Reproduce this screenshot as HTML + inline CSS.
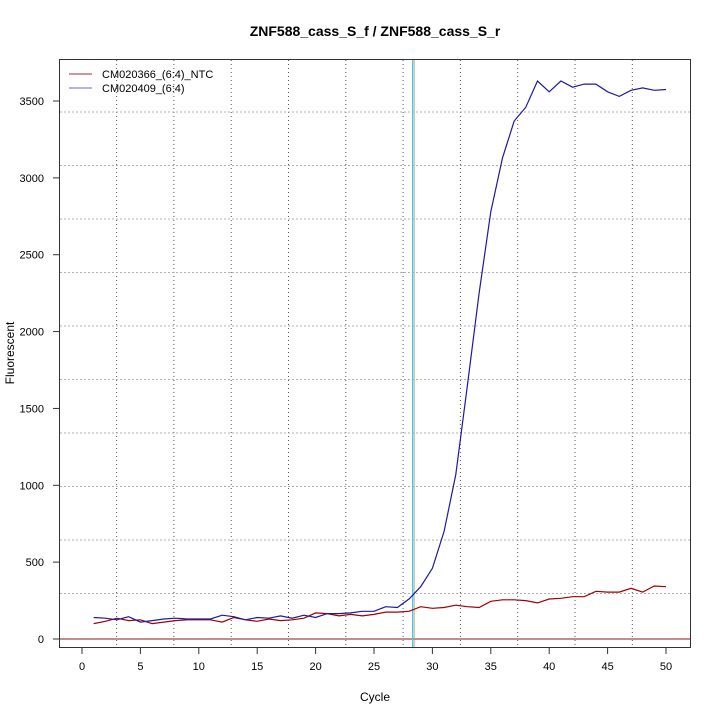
<!DOCTYPE html>
<html><head><meta charset="utf-8"><style>
body{margin:0;background:#fff}
svg{display:block;font-family:"Liberation Sans",sans-serif}
</style></head><body>
<svg id="chart" width="720" height="720" viewBox="0 0 720 720">
<rect width="720" height="720" fill="#fff"/>
<text x="375" y="36" text-anchor="middle" font-size="14" font-weight="bold">ZNF588_cass_S_f / ZNF588_cass_S_r</text>
<text x="375" y="701" text-anchor="middle" font-size="12">Cycle</text>
<text x="14" y="353" text-anchor="middle" font-size="12" transform="rotate(-90 14 353)">Fluorescent</text>
<g id="grid"></g>
<g id="axes"></g>
<g id="series"></g>
<rect x="59.5" y="59.5" width="631" height="588" fill="none" stroke="#333"/>
<g>
<line x1="69" y1="74" x2="92" y2="74" stroke="#a52a2a"/>
<text x="102" y="78" font-size="11">CM020366_(6:4)_NTC</text>
<line x1="69" y1="88" x2="92" y2="88" stroke="#6666dd"/>
<text x="102" y="92" font-size="11">CM020409_(6:4)</text>
</g>
</svg>
<script>
const cycles=[1,2,3,4,5,6,7,8,9,10,11,12,13,14,15,16,17,18,19,20,21,22,23,24,25,26,27,28,29,30,31,32,33,34,35,36,37,38,39,40,41,42,43,44,45,46,47,48,49,50];
const sampleValues=[140,135,125,145,110,120,130,135,130,130,130,155,145,125,140,135,150,135,155,140,165,165,170,180,180,210,205,260,340,460,700,1070,1650,2250,2780,3130,3370,3460,3630,3560,3630,3590,3610,3610,3560,3530,3570,3585,3570,3575];
const ntcValues=[100,115,135,120,125,100,110,120,125,125,125,110,140,125,115,130,120,125,135,170,165,150,160,150,160,175,175,180,210,200,205,220,210,205,245,255,255,250,235,260,265,275,275,310,305,305,330,305,345,340];
const xTicks=[0,5,10,15,20,25,30,35,40,45,50];
const yTicks=[0,500,1000,1500,2000,2500,3000,3500];
const threshold=28.3;
const NS='http://www.w3.org/2000/svg';
function X(c){return 82+c*11.68;}
function Y(v){return 639-v*0.15371;}
function mk(tag,attrs,parent){const e=document.createElementNS(NS,tag);for(const k in attrs)e.setAttribute(k,attrs[k]);parent.appendChild(e);return e;}
const grid=document.getElementById('grid'),axes=document.getElementById('axes'),series=document.getElementById('series');
for(let i=0;i<10;i++){const x=116.6+i*57.3;const l=mk('line',{x1:x,y1:60,x2:x,y2:647,stroke:'#555','stroke-dasharray':'1,3'},grid);

}
for(let i=0;i<10;i++){const y=112+i*53.5;const l=mk('line',{x1:60,y1:y,x2:690,y2:y,stroke:'#b0b0b0','stroke-dasharray':'2,2'},grid);

}
xTicks.forEach(t=>{const x=X(t);mk('line',{x1:x,y1:648,x2:x,y2:654,stroke:'#333'},axes);
const tx=mk('text',{x:x,y:670,'text-anchor':'middle','font-size':11},axes);tx.textContent=t;

});
yTicks.forEach(t=>{const y=Y(t);mk('line',{x1:53,y1:y,x2:59,y2:y,stroke:'#333'},axes);
const tx=mk('text',{x:44,y:y+4,'text-anchor':'end','font-size':11},axes);tx.textContent=t;

});
const zl=mk('line',{x1:60,y1:Y(0),x2:690,y2:Y(0),stroke:'#8b1a1a'},series);


const th=mk('line',{x1:X(threshold),y1:60,x2:X(threshold),y2:647,stroke:'#00e5ee','stroke-width':1},series);


const th2=mk('line',{x1:X(threshold)+1.5,y1:60,x2:X(threshold)+1.5,y2:647,stroke:'#e08070','stroke-width':1},series);


function path(vals,color,name){const d=vals.map((v,i)=>(i?'L':'M')+X(cycles[i]).toFixed(1)+','+Y(v).toFixed(1)).join('');
const p=mk('path',{d:d,fill:'none',stroke:color,'stroke-width':1.2},series);

}
path(ntcValues,'#a00000','series-ntc');
path(sampleValues,'#1a1aa0','series-sample');
</script>
</body></html>
